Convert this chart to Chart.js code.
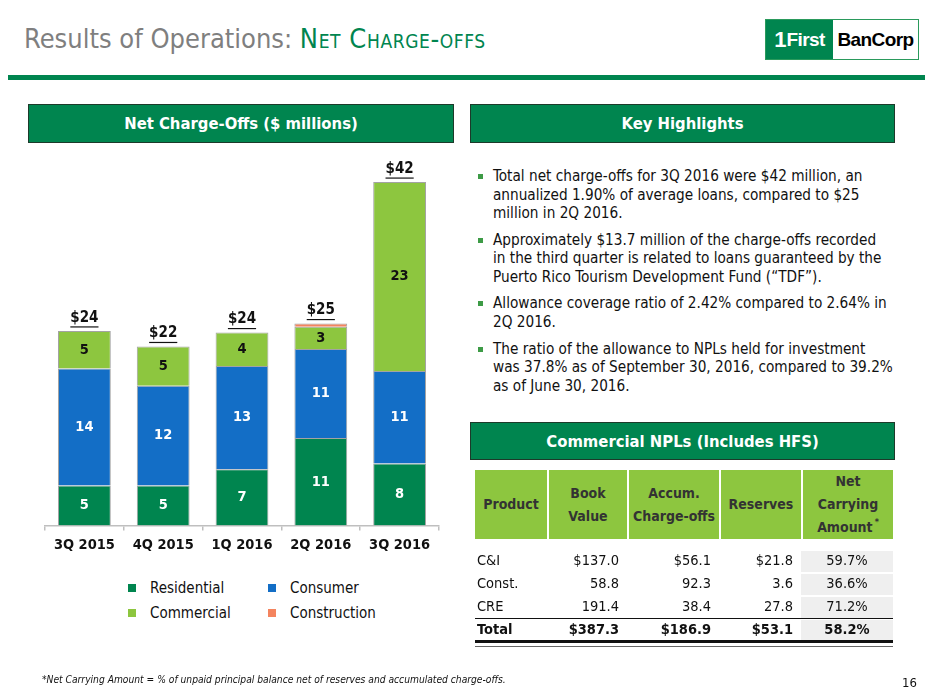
<!DOCTYPE html>
<html><head><meta charset="utf-8">
<script src="https://cdn.jsdelivr.net/npm/chart.js@4.4.1/dist/chart.umd.min.js"></script>
<style>
body{margin:0;width:933px;height:700px;position:relative;background:#fff;overflow:hidden;
 font-family:"DejaVu Sans Condensed","DejaVu Sans",sans-serif;color:#111}
.a{position:absolute;white-space:nowrap}
#title{left:24px;top:22px;font-size:27px;color:#7f7f7f;line-height:34px}
#title .g{color:#00854f;font-variant:small-caps;letter-spacing:0.6px}
#rule{left:8px;top:75px;width:917px;height:5px;background:#00854f}
#logo{left:765px;top:19px;width:152px;height:39px;border:1px solid #2a9a5c;display:flex;font-family:"Liberation Sans",Arial,sans-serif;font-weight:bold;font-size:19px;letter-spacing:-0.6px}
#logo .l{width:67px;background:#00854f;color:#fff;display:flex;align-items:center;justify-content:center}
#logo .l b{font-size:22px;letter-spacing:-1px;margin-right:1px}
#logo .r{flex:1;background:#fff;color:#000;display:flex;align-items:center;justify-content:center}
.hdr{background:#00854f;border:1px solid #1d3a2a;color:#fff;font-weight:bold;font-size:16.5px;display:flex;align-items:center;justify-content:center;box-sizing:border-box}
#h1{left:28px;top:104px;width:426px;height:39px}
#h2{left:470px;top:104px;width:425px;height:39px}
#h3{left:470px;top:422px;width:425px;height:38px}
#chartbox{left:20px;top:133px;width:430px;height:430px}
#legend{left:128px;top:578px;font-size:15px}
.li{position:absolute;display:flex;align-items:center;height:20px}
.li i{display:inline-block;width:8px;height:8px;margin-right:14px}
#bul{left:478px;top:167px;font-size:15.2px;line-height:18.5px;color:#111}
.p{position:relative;padding-left:15px;margin-bottom:8.2px}
.p:before{content:"";position:absolute;left:0;top:7px;width:5px;height:5px;background:#3d9b46}
#tbl{left:0;top:0;width:933px;height:700px}
.th{position:absolute;color:#333;font-weight:bold;font-size:14px;line-height:23px;text-align:center;display:flex;align-items:center;justify-content:center}
.td{position:absolute;font-size:14.5px;line-height:23px;height:23px;white-space:nowrap}
#foot{left:42px;top:674px;font-size:10.2px;font-style:italic;color:#111}
#pg{left:902px;top:675px;font-size:13px;color:#111}
</style></head>
<body>
<div id="title" class="a">Results of Operations: <span class="g">Net Charge-offs</span></div>
<div id="logo" class="a"><div class="l"><b>1</b>First</div><div class="r">BanCorp</div></div>
<div id="rule" class="a"></div>

<div id="h1" class="a hdr">Net Charge-Offs ($ millions)</div>
<div id="h2" class="a hdr">Key Highlights</div>
<div id="h3" class="a hdr">Commercial NPLs (Includes HFS)</div>

<div id="chartbox" class="a"><canvas id="c" width="430" height="430"></canvas></div>
<div id="legend" class="a"></div>

<div id="bul" class="a">
<div class="p">Total net charge-offs for 3Q 2016 were $42 million, an<br>annualized 1.90% of average loans, compared to $25<br>million in 2Q 2016.</div>
<div class="p">Approximately $13.7 million of the charge-offs recorded<br>in the third quarter is related to loans guaranteed by the<br>Puerto Rico Tourism Development Fund (“TDF”).</div>
<div class="p">Allowance coverage ratio of 2.42% compared to 2.64% in<br>2Q 2016.</div>
<div class="p">The ratio of the allowance to NPLs held for investment<br>was 37.8% as of September 30, 2016, compared to 39.2%<br>as of June 30, 2016.</div>
</div>

<div id="tbl" class="a"></div>

<div id="foot" class="a">*Net Carrying Amount = % of unpaid principal balance net of reserves and accumulated charge-offs.</div>
<div id="pg" class="a">16</div>

<script>
// ---- chart data ----
const categories = ["3Q 2015","4Q 2015","1Q 2016","2Q 2016","3Q 2016"];
const residential = [4.9, 4.9, 6.9, 10.7, 7.6];
const consumer    = [14.3, 12.2, 12.6, 10.9, 11.3];
const commercial  = [4.6, 4.8, 4.1, 2.7, 23.1];
const construction= [0, 0, 0, 0.4, 0];
const totals      = [24, 22, 24, 25, 42];
const seriesNames = ["Residential","Consumer","Commercial","Construction"];
const seriesColors= ["#00854f","#136ec6","#8dc63f","#f4845f"];
const labelColors = ["#ffffff","#ffffff","#111111","#111111"];

// ---- table data ----
const tblHeaders = ["Product","Book<br>Value","Accum.<br>Charge-offs","Reserves","Net<br>Carrying<br>Amount<sup style='font-size:9px;vertical-align:7px;margin-left:2px;line-height:0'>*</sup>"];
const products   = ["C&amp;I","Const.","CRE","Total"];
const bookValue  = ["$137.0","58.8","191.4","$387.3"];
const accumCO    = ["$56.1","92.3","38.4","$186.9"];
const reserves   = ["$21.8","3.6","27.8","$53.1"];
const netCarrying= ["59.7%","36.6%","71.2%","58.2%"];

const FONT = '"DejaVu Sans Condensed","DejaVu Sans",sans-serif';

// table (HTML text, absolute layout)
(function(){
  const colEdges=[475,547,627,719,801,893];
  let h=`<div class="a" style="left:475px;top:470px;width:418px;height:69px;background:#8dc63f"></div>`;
  for(let i=1;i<5;i++) h+=`<div class="a" style="left:${colEdges[i]}px;top:470px;width:2px;height:69px;background:#fff"></div>`;
  tblHeaders.forEach((t,i)=>{
    const l=colEdges[i]+(i?2:0), w=colEdges[i+1]-l;
    h+=`<div class="th" style="left:${l}px;top:470px;width:${w}px;height:69px"><div>${t}</div></div>`;
  });
  const rowTop=[548.5,571.5,594.5,618];
  const rightCol=(txt,r,t,fw)=>`<div class="td" style="left:${r-90}px;width:90px;top:${t}px;font-weight:${fw};text-align:right">${txt}</div>`;
  products.forEach((p,r)=>{
    const t=rowTop[r], tot=r===products.length-1, fw=tot?'bold':'normal';
    h+=`<div class="a" style="left:801px;top:${t+2}px;width:92px;height:21px;background:#efefef"></div>`;
    h+=`<div class="td" style="left:477px;top:${t}px;font-weight:${fw}">${p}</div>`;
    h+=rightCol(bookValue[r],619,t,fw);
    h+=rightCol(accumCO[r],711,t,fw);
    h+=rightCol(reserves[r],793,t,fw);
    h+=`<div class="td" style="left:801px;width:92px;top:${t}px;font-weight:${fw};text-align:center">${netCarrying[r]}</div>`;
  });
  h+=`<div class="a" style="left:475px;top:618px;width:418px;height:1px;background:#111"></div>`;
  h+=`<div class="a" style="left:475px;top:640px;width:418px;height:2.5px;background:#111"></div>`;
  h+=`<div class="a" style="left:475px;top:646px;width:418px;height:1px;background:#666"></div>`;
  document.getElementById('tbl').innerHTML=h;
})();

// legend
(function(){
  const pos=[[0,0],[140,0],[0,25],[140,25]];
  document.getElementById('legend').innerHTML=seriesNames.map((n,i)=>
    `<div class="li" style="left:${pos[i][0]}px;top:${pos[i][1]}px"><i style="background:${seriesColors[i]}"></i>${n}</div>`).join('');
})();

const labelPlugin={
  id:'labels',
  afterDatasetsDraw(chart){
    const ctx=chart.ctx;
    ctx.save();
    ctx.textAlign='center';ctx.textBaseline='middle';
    chart.data.datasets.forEach((ds,di)=>{
      const meta=chart.getDatasetMeta(di);
      meta.data.forEach((bar,i)=>{
        const v=ds.data[i];
        if(v<1) return;
        ctx.font='bold 14.5px '+FONT;
        ctx.fillStyle=labelColors[di];
        ctx.fillText(String(Math.round(v)),bar.x,(bar.y+bar.base)/2);
      });
    });
    const last=chart.getDatasetMeta(chart.data.datasets.length-1);
    ctx.font='bold 15px '+FONT;
    ctx.fillStyle='#111';ctx.strokeStyle='#111';ctx.lineWidth=1.2;
    last.data.forEach((bar,i)=>{
      const t='$'+totals[i];
      const y=bar.y-13;
      ctx.fillText(t,bar.x,y);
      const w=ctx.measureText(t).width;
      ctx.beginPath();ctx.moveTo(bar.x-w/2,y+9);ctx.lineTo(bar.x+w/2,y+9);ctx.stroke();
    });
    ctx.restore();
  }
};

new Chart(document.getElementById('c'),{
  type:'bar',
  data:{labels:categories,datasets:[residential,consumer,commercial,construction].map((d,i)=>({
    label:seriesNames[i],data:d,backgroundColor:seriesColors[i],borderColor:'rgba(140,140,140,0.8)',borderWidth:1,
    barPercentage:0.67,categoryPercentage:1
  }))},
  options:{
    responsive:false,animation:false,
    layout:{padding:{left:25,right:11,top:0,bottom:3}},
    plugins:{legend:{display:false},tooltip:{enabled:false}},
    scales:{
      x:{stacked:true,border:{color:'#bfbfbf',width:1.5},
         grid:{offset:true,drawOnChartArea:false,tickLength:5,color:'#bfbfbf',lineWidth:1.5},
         ticks:{padding:6,color:'#111',font:{family:FONT,size:14.5,weight:'bold'}}},
      y:{stacked:true,display:false,min:0,max:48}
    }
  },
  plugins:[labelPlugin]
});
</script>
</body></html>
